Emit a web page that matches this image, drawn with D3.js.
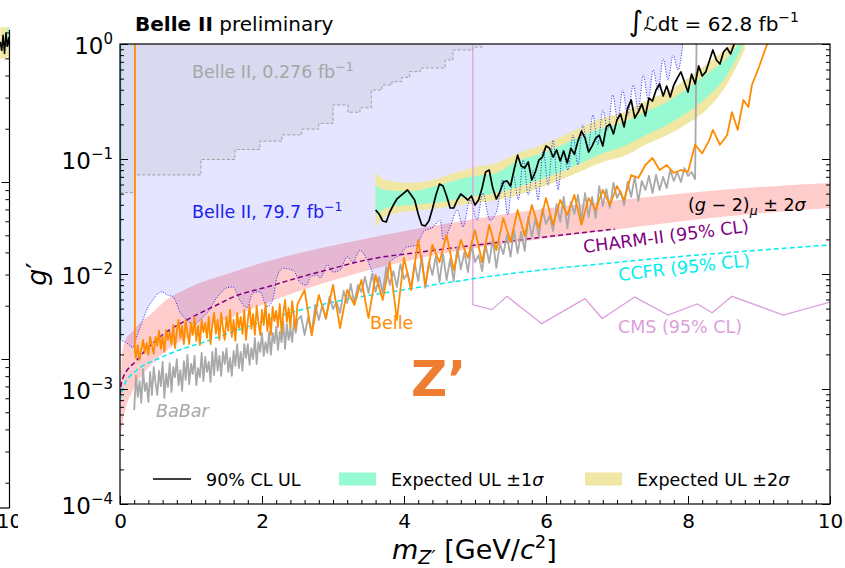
<!DOCTYPE html>
<html><head><meta charset="utf-8">
<script src="https://cdn.jsdelivr.net/npm/d3@7"></script>
<style>
body{margin:0;background:#fff}
svg{display:block}
text{font-family:"DejaVu Sans",sans-serif}
</style>
</head><body>
<svg id="c" width="845" height="568"></svg>
<script>
// ---------------- DATA ----------------
const xTicks = [0, 2, 4, 6, 8, 10];
const yTicks = [1e-4, 1e-3, 1e-2, 1e-1, 1];
const yTickExps = ["\u22124", "\u22123", "\u22122", "\u22121", "0"];

// (g-2)_mu +- 2 sigma band
const g2Mass = [0, 0.03, 0.08, 0.17, 0.28, 0.42, 0.63, 0.99, 1.55, 2.25, 3.10, 4.23, 5.63, 7.04, 8.45, 10];
const g2Low  = [3.6e-4, 4.9e-4, 6.8e-4, 9.4e-4, 1.24e-3, 1.58e-3, 2.1e-3, 2.89e-3, 4.14e-3, 6.2e-3, 9.2e-3, 0.0138, 0.019, 0.0246, 0.0313, 0.0375];
const g2High = [8.0e-4, 1.98e-3, 2.67e-3, 3.13e-3, 3.75e-3, 4.4e-3, 5.8e-3, 7.7e-3, 0.0102, 0.0138, 0.0182, 0.0251, 0.0346, 0.044, 0.0538, 0.0618];

// Belle II 0.276 fb-1 (step)
const b2oldMass  = [0, 0.21, 1.14, 1.62, 1.97, 2.28, 2.56, 2.80, 3.00, 3.21, 3.38, 3.54, 3.69, 3.83, 3.97, 4.08, 4.23, 4.58, 4.69, 4.97, 5.10];
const b2oldLimit = [0.051, 0.0726, 0.099, 0.121, 0.143, 0.162, 0.182, 0.204, 0.295, 0.255, 0.279, 0.398, 0.440, 0.470, 0.513, 0.575, 0.618, 0.726, 0.887, 0.94, 1.0];

// Belle II 79.7 fb-1 (blue dotted)
const b2fullMass = [0, 0.10, 0.18, 0.24, 0.31, 0.39, 0.46, 0.54, 0.59, 0.66, 0.75, 0.85, 0.94, 1.03, 1.13, 1.23, 1.37, 1.51, 1.59, 1.69,
  1.79, 1.87, 1.97, 2.07, 2.15, 2.21, 2.30, 2.44, 2.54, 2.63, 2.68, 2.77, 2.82, 2.92, 3.00, 3.10, 3.20, 3.28, 3.38, 3.48,
  3.62, 3.70, 3.80, 3.94, 4.04, 4.18, 4.27, 4.41, 4.51, 4.55, 4.65, 4.75, 4.83, 4.93, 5.03, 5.11, 5.21, 5.31, 5.39, 5.46,
  5.54, 5.61, 5.68, 5.75, 5.82, 5.89, 5.96, 6.03, 6.10, 6.17, 6.24, 6.31, 6.38, 6.45, 6.52, 6.59, 6.66, 6.73, 6.80, 6.87,
  6.94, 7.01, 7.08, 7.15, 7.23, 7.30, 7.37, 7.44, 7.51, 7.58, 7.65, 7.72, 7.79, 7.86, 7.93];
const b2fullLimit = [2.67e-3, 2.5e-3, 2.3e-3, 2.9e-3, 3.8e-3, 5.1e-3, 5.9e-3, 6.8e-3, 7.0e-3, 6.6e-3, 6.3e-3, 4.6e-3, 4.0e-3, 3.6e-3, 4.0e-3, 4.6e-3, 6.3e-3, 7.6e-3, 7.7e-3, 5.9e-3,
  5.1e-3, 6.8e-3, 7.0e-3, 5.2e-3, 5.9e-3, 9.4e-3, 0.0112, 0.0107, 8.4e-3, 8.0e-3, 9.4e-3, 9.8e-3, 9.2e-3, 0.012, 0.0104, 0.0108, 0.0141, 0.0127, 0.0161, 0.0133,
  8.4e-3, 7.7e-3, 0.0127, 0.0146, 0.0171, 0.0178, 0.0231, 0.0256, 0.0293, 0.0198, 0.0256, 0.036, 0.0256, 0.044, 0.0293, 0.0506, 0.0293, 0.036, 0.066, 0.0326,
  0.073, 0.044, 0.098, 0.0487, 0.080, 0.044, 0.12, 0.059, 0.146, 0.0538, 0.12, 0.080, 0.161, 0.089, 0.198, 0.12, 0.241, 0.133, 0.267, 0.179,
  0.36, 0.219, 0.398, 0.241, 0.44, 0.267, 0.538, 0.326, 0.594, 0.398, 0.741, 0.487, 0.802, 0.594, 1.05];

// Expected UL bands
const expMass = [3.60, 3.65, 3.75, 3.90, 4.10, 4.40, 4.70, 4.80, 5.00, 5.30, 5.60, 5.90, 6.20, 6.50, 6.80, 7.10, 7.40, 7.70, 8.00, 8.30, 8.55, 8.80];
const exp2Up = [0.0771, 0.0711, 0.0657, 0.0631, 0.0618, 0.0657, 0.0756, 0.0787, 0.0852, 0.0923, 0.112, 0.130, 0.155, 0.190, 0.227, 0.256, 0.319, 0.382, 0.506, 0.697, 0.923, 1.3];
const exp1Up = [0.0594, 0.0559, 0.0538, 0.0527, 0.0527, 0.0572, 0.0645, 0.0670, 0.0711, 0.0756, 0.0961, 0.110, 0.130, 0.158, 0.186, 0.210, 0.256, 0.313, 0.414, 0.572, 0.756, 1.2];
const exp1Dn = [0.0326, 0.0346, 0.0375, 0.0390, 0.0398, 0.0414, 0.044, 0.0458, 0.0477, 0.0506, 0.0572, 0.0657, 0.0771, 0.0923, 0.112, 0.130, 0.161, 0.198, 0.256, 0.360, 0.538, 1.05];
const exp2Dn = [0.0256, 0.0283, 0.0319, 0.0339, 0.0353, 0.0367, 0.0390, 0.0398, 0.0414, 0.044, 0.0487, 0.0559, 0.0657, 0.0787, 0.0942, 0.106, 0.133, 0.161, 0.205, 0.283, 0.45, 0.9];

// Observed 90% CL UL
const obsMass = [3.60,3.65,3.70,3.75,3.80,3.85,3.90,3.95,4.00,4.05,4.10,4.15,4.20,4.25,4.30,4.35,4.40,4.45,4.50,4.55,
  4.60,4.65,4.70,4.75,4.80,4.85,4.90,4.95,5.00,5.05,5.10,5.15,5.20,5.25,5.30,5.35,5.40,5.45,5.50,5.55,
  5.60,5.65,5.70,5.75,5.80,5.85,5.90,5.95,6.00,6.05,6.10,6.15,6.20,6.25,6.30,6.35,6.40,6.45,6.50,6.55,
  6.60,6.65,6.70,6.75,6.80,6.85,6.90,6.95,7.00,7.05,7.10,7.15,7.20,7.25,7.30,7.35,7.40,7.45,7.50,7.55,
  7.60,7.65,7.70,7.75,7.80,7.85,7.90,7.95,8.00,8.05,8.10,8.15,8.20,8.25,8.30,8.35,8.40,8.45,8.50,8.55,
  8.60,8.65,8.70];
const obsLimit = [0.036,0.0332,0.0289,0.0283,0.0346,0.0398,0.0449,0.0477,0.0506,0.0538,0.0487,0.044,0.0332,0.0267,0.0262,0.0289,0.0367,0.0487,0.0606,0.0582,
  0.0477,0.0375,0.0375,0.044,0.0496,0.0468,0.044,0.0477,0.0398,0.044,0.0559,0.0771,0.0802,0.0559,0.0449,0.0516,0.0631,0.0645,0.0582,0.0802,
  0.108,0.0869,0.0835,0.0942,0.0657,0.0771,0.098,0.104,0.130,0.124,0.104,0.120,0.0961,0.117,0.0923,0.124,0.110,0.143,0.175,0.152,
  0.115,0.130,0.152,0.161,0.130,0.190,0.201,0.165,0.219,0.246,0.190,0.277,0.326,0.227,0.256,0.301,0.237,0.339,0.319,0.398,
  0.449,0.353,0.431,0.346,0.440,0.506,0.572,0.468,0.382,0.548,0.449,0.645,0.527,0.572,0.711,0.887,0.726,0.670,0.852,0.923,
  0.819,1.0,1.13];

// BaBar
const babarMass = [0.200,0.225,0.250,0.275,0.300,0.325,0.350,0.375,0.400,0.425,0.450,0.475,0.500,0.525,0.550,0.575,0.600,0.625,0.650,0.675,
  0.700,0.725,0.750,0.775,0.800,0.825,0.850,0.875,0.900,0.925,0.950,0.975,1.000,1.025,1.050,1.075,1.100,1.125,1.150,1.175,
  1.200,1.225,1.250,1.275,1.300,1.325,1.350,1.375,1.400,1.425,1.450,1.475,1.500,1.525,1.550,1.575,1.600,1.625,1.650,1.675,
  1.700,1.725,1.750,1.775,1.800,1.825,1.850,1.875,1.900,1.925,1.950,1.975,2.000,2.025,2.050,2.075,2.100,2.125,2.150,2.175,
  2.200,2.225,2.250,2.275,2.300,2.325,2.350,2.375,2.400,2.425,2.450,2.475,2.500,
  2.55,2.60,2.65,2.70,2.75,2.80,2.85,2.90,2.95,3.00,3.05,3.10,3.15,3.20,3.25,3.30,3.35,3.40,3.45,3.50,
  3.55,3.60,3.65,3.70,3.75,3.80,3.85,3.90,3.95,4.00,4.05,4.10,4.15,4.20,4.25,4.30,4.35,4.40,
  4.45,4.50,4.55,4.60,4.65,4.70,4.75,4.80,4.85,4.90,4.95,5.00,5.05,5.10,5.15,5.20,5.25,5.30,5.35,
  5.40,5.45,5.50,5.55,5.60,5.65,5.70,5.75,5.80,5.85,5.90,5.95,6.00,6.05,6.10,
  6.15,6.20,6.25,6.30,6.35,6.40,6.45,6.50,6.55,6.60,6.65,6.70,6.75,6.80,6.85,6.90,6.95,7.00,
  7.05,7.10,7.15,7.20,7.25,7.30,7.35,7.40,7.45,7.50,7.55,7.60,7.65,7.70,7.75,
  7.80,7.85,7.90,7.95,8.00,8.05,8.10,8.12];
const babarLimit = [6.57e-4,1.32e-3,8.52e-4,1.17e-3,7.56e-4,1.49e-3,9.61e-4,1.13e-3,7.71e-4,1.41e-3,
  8.87e-4,1.55e-3,1.13e-3,8.87e-4,1.44e-3,1.06e-3,1.72e-3,8.35e-4,1.35e-3,1.04e-3,
  1.68e-3,9.42e-4,1.55e-3,1.27e-3,1.82e-3,1.08e-3,1.46e-3,9.61e-4,1.75e-3,1.20e-3,
  1.98e-3,1.10e-3,1.65e-3,1.35e-3,1.94e-3,1.08e-3,1.52e-3,1.27e-3,2.06e-3,1.17e-3,
  1.90e-3,1.41e-3,1.72e-3,1.15e-3,2.10e-3,1.32e-3,2.27e-3,1.44e-3,1.94e-3,1.30e-3,
  2.10e-3,1.65e-3,2.27e-3,1.41e-3,1.86e-3,1.30e-3,2.14e-3,1.59e-3,2.46e-3,1.52e-3,
  2.10e-3,1.44e-3,2.46e-3,1.86e-3,2.46e-3,1.62e-3,2.27e-3,1.82e-3,2.78e-3,1.65e-3,
  2.56e-3,2.10e-3,3.07e-3,1.94e-3,2.56e-3,2.06e-3,3.13e-3,1.98e-3,3.07e-3,2.51e-3,
  3.46e-3,2.19e-3,3.13e-3,2.56e-3,3.83e-3,2.23e-3,3.68e-3,2.67e-3,3.39e-3,2.56e-3,
  3.98e-3,3.07e-3,3.98e-3,
  4.31e-3,2.95e-3,4.23e-3,3.07e-3,5.38e-3,3.98e-3,5.38e-3,4.06e-3,6.31e-3,4.96e-3,5.71e-3,4.58e-3,7.12e-3,5.60e-3,8.19e-3,5.48e-3,8.02e-3,6.98e-3,9.42e-3,6.84e-3,
  0.0100,6.98e-3,9.42e-3,6.84e-3,0.0115,8.02e-3,0.0106,7.71e-3,0.0122,9.05e-3,0.0102,7.56e-3,0.0125,8.69e-3,0.0144,7.56e-3,0.0127,9.80e-3,
  0.0144,8.52e-3,0.0149,8.87e-3,0.0135,8.69e-3,0.0172,0.0110,0.0155,0.0104,0.0179,0.0127,0.0146,0.0106,0.0179,0.0125,0.0202,0.0113,0.0182,
  0.0149,0.0219,0.0141,0.0241,0.0152,0.0232,0.0159,0.0313,0.0210,0.0301,0.0210,0.0368,0.0272,0.0320,0.0237,
  0.0406,0.0284,0.0468,0.0251,0.0423,0.0333,0.0487,0.0295,0.0506,0.0313,0.0468,0.0307,0.0582,0.0390,0.0548,0.0375,0.0619,0.0458,
  0.0527,0.0398,0.0631,0.0468,0.0698,0.0431,0.0644,0.0538,0.0712,0.0506,0.0726,0.0538,0.0698,0.0560,0.0802,
  0.0644,0.0771,0.0631,0.0835,0.0712,0.0771,0.0670,1.0];

// Belle
const belleMass = [0.21,0.21,0.225,0.250,0.275,0.300,0.325,0.350,0.375,0.400,0.425,0.450,
  0.475,0.500,0.525,0.550,0.575,0.600,0.625,0.650,0.675,0.700,
  0.725,0.750,0.775,0.800,0.825,0.850,0.875,0.900,0.925,0.950,
  0.975,1.000,1.025,1.050,1.075,1.100,1.125,1.150,1.175,1.200,
  1.225,1.250,1.275,1.300,1.325,1.350,1.375,1.400,1.425,1.450,
  1.475,1.500,1.525,1.550,1.575,1.600,1.625,1.650,1.675,1.700,
  1.725,1.750,1.775,1.800,1.825,1.850,1.875,1.900,1.925,1.950,
  1.975,2.000,2.025,2.050,2.075,2.100,2.125,2.150,2.175,2.200,
  2.225,2.250,2.275,2.300,2.325,2.350,2.375,2.400,2.425,2.450,2.475,2.500,
  2.60,2.70,2.80,2.90,3.00,3.10,3.20,3.30,3.40,3.50,3.60,3.70,3.80,3.90,4.00,4.10,4.20,4.30,4.40,4.50,
  4.60,4.70,4.80,4.90,5.00,5.10,5.20,5.30,5.40,5.50,5.60,5.70,5.80,5.90,6.00,6.10,6.20,6.30,6.40,
  6.50,6.60,6.70,6.80,6.90,7.00,7.10,7.20,7.30,7.40,7.50,7.60,7.70,7.80,7.90,8.00,8.10,8.20,8.30,
  8.35,8.45,8.55,8.62,8.70,8.78,8.85,8.90,9.00,9.10,9.15];
const belleLimit = [1.0,2.10e-3,1.86e-3,2.41e-3,1.79e-3,2.23e-3,2.67e-3,2.06e-3,2.51e-3,1.98e-3,2.84e-3,2.37e-3,
  2.02e-3,2.84e-3,2.37e-3,3.20e-3,2.23e-3,2.84e-3,2.10e-3,3.26e-3,2.67e-3,3.13e-3,
  2.46e-3,3.60e-3,2.27e-3,3.20e-3,3.98e-3,2.78e-3,3.53e-3,2.46e-3,3.98e-3,3.07e-3,
  2.46e-3,3.75e-3,2.95e-3,4.23e-3,2.62e-3,3.53e-3,2.41e-3,3.98e-3,3.13e-3,3.75e-3,
  2.78e-3,4.23e-3,2.46e-3,3.60e-3,4.58e-3,3.01e-3,3.98e-3,2.67e-3,4.58e-3,3.39e-3,
  2.67e-3,4.23e-3,3.20e-3,4.87e-3,2.84e-3,3.98e-3,2.62e-3,4.58e-3,3.39e-3,4.23e-3,
  3.01e-3,4.87e-3,2.67e-3,3.98e-3,5.27e-3,3.33e-3,4.49e-3,2.95e-3,5.27e-3,3.75e-3,
  2.95e-3,4.87e-3,3.60e-3,5.60e-3,3.20e-3,4.49e-3,2.95e-3,5.17e-3,3.90e-3,4.77e-3,
  3.46e-3,5.48e-3,3.07e-3,4.58e-3,5.94e-3,3.83e-3,5.06e-3,3.39e-3,5.82e-3,4.31e-3,3.33e-3,5.48e-3,
  7.26e-3,2.93e-3,6.57e-3,4.14e-3,8.02e-3,3.39e-3,7.26e-3,5.38e-3,8.87e-3,4.14e-3,9.8e-3,5.94e-3,0.0127,3.98e-3,0.0138,7.26e-3,0.0198,8.02e-3,0.0179,0.0127,
  0.0219,0.0108,0.0198,0.0138,0.0241,0.0127,0.0267,0.0161,0.0306,0.0190,0.0360,0.0214,0.0398,0.0251,0.0458,0.0267,0.0440,0.0326,0.0487,
  0.0267,0.0458,0.0360,0.0538,0.0398,0.0582,0.0440,0.0726,0.0684,0.0887,0.102,0.0802,0.0887,0.0756,0.0802,0.0771,0.133,0.112,0.146,
  0.179,0.133,0.161,0.256,0.179,0.326,0.283,0.440,0.631,0.942,1.13];

// CHARM-II, CCFR, CMS
const charmMass  = [0, 0.03, 0.24, 0.56, 0.94, 1.37, 1.59, 2.07, 2.54, 3.0, 3.48, 4.23, 5.63, 6.97];
const charmLimit = [8.9e-4, 1.2e-3, 1.79e-3, 2.83e-3, 3.98e-3, 5.4e-3, 6.3e-3, 7.7e-3, 9.4e-3, 0.0112, 0.0133, 0.0155, 0.0198, 0.0246];
const ccfrMass  = [0, 0.07, 0.21, 0.56, 1.27, 2.54, 4.23, 5.35, 7.04, 10];
const ccfrLimit = [8.0e-4, 1.12e-3, 1.41e-3, 1.86e-3, 2.67e-3, 4.87e-3, 7.7e-3, 9.8e-3, 0.0127, 0.0179];
const cmsMass  = [4.97, 4.97, 5.24, 5.45, 5.94, 6.55, 6.79, 7.25, 7.72, 8.13, 8.34, 8.62, 9.34, 10];
const cmsLimit = [1.0, 5.4e-3, 4.9e-3, 6.4e-3, 3.7e-3, 6.1e-3, 4.1e-3, 6.3e-3, 4.4e-3, 5.5e-3, 4.6e-3, 6.4e-3, 4.4e-3, 5.7e-3];

// fragment of the neighbouring panel at the left edge
const fragMass = [9.87, 9.89, 9.91, 9.93, 9.95, 9.97, 9.99, 10.0];
const fragObs  = [0.62, 0.55, 0.68, 0.53, 0.70, 0.58, 0.66, 0.60];
const fragBandLo = [0.50, 0.49, 0.51, 0.48, 0.50, 0.52, 0.49, 0.50];
const fragBandHi = [0.75, 0.75, 0.75, 0.75, 0.75, 0.75, 0.75, 0.75];

// ---------------- CHART ----------------
const svg = d3.select("#c");
const L = 120, R = 830, T = 44, B = 504;
const x = d3.scaleLinear().domain([0, 10]).range([L, R]);
const y = d3.scaleLog().domain([1e-4, 1]).range([B, T]);
const zip = (a, b) => a.map((v, i) => [v, b[i]]).filter(d => d[1] !== undefined);

const defs = svg.append("defs");
defs.append("clipPath").attr("id", "plot").append("rect").attr("x", L).attr("y", T).attr("width", R - L).attr("height", B - T);
defs.append("clipPath").attr("id", "frag").append("rect").attr("x", 0).attr("y", 0).attr("width", 18).attr("height", 568);

const COL = {
  pink: "rgba(255,0,0,0.2)", lav: "rgba(0,0,255,0.1)", old: "rgba(128,128,128,0.12)",
  green: "#97fad3", yellow: "#efe7a3", orange: "#ff8c00", grey: "#a9a9a9",
  blue: "#2a2af5", purple: "#800080", cyan: "#00eeee", plum: "#dda0dd"
};

const p = svg.append("g").attr("clip-path", "url(#plot)");
const line = d3.line().x(d => x(d[0])).y(d => y(d[1]));
const smooth = d3.line().x(d => x(d[0])).y(d => y(d[1])).curve(d3.curveMonotoneX);

// g-2 band
p.append("path").datum(g2Mass.map((m, i) => [m, g2Low[i], g2High[i]]))
  .attr("d", d3.area().x(d => x(d[0])).y0(d => y(d[1])).y1(d => y(d[2])).curve(d3.curveMonotoneX))
  .attr("fill", COL.pink);

// Belle II 79.7 fb-1 excluded region
p.append("path").datum(zip(b2fullMass, b2fullLimit))
  .attr("d", d3.area().x(d => x(d[0])).y0(y(1)).y1(d => y(d[1])).curve(d3.curveMonotoneX))
  .attr("fill", COL.lav);
// Belle II 0.276 fb-1 region
p.append("path").datum(zip(b2oldMass, b2oldLimit))
  .attr("d", d3.area().x(d => x(d[0])).y0(y(1)).y1(d => y(d[1])).curve(d3.curveStepAfter))
  .attr("fill", COL.old);

// expected bands
const band = (lo, hi) => d3.area().x(d => x(d[0])).y0(d => y(d[lo])).y1(d => y(d[hi])).curve(d3.curveMonotoneX);
const expData = expMass.map((m, i) => [m, exp2Dn[i], exp1Dn[i], exp1Up[i], exp2Up[i]]);
p.append("path").datum(expData).attr("d", band(1, 4)).attr("fill", COL.yellow);
p.append("path").datum(expData).attr("d", band(2, 3)).attr("fill", COL.green);

// teal edge on the left
p.append("path").datum([[0.008, 1], [0.008, 2.7e-3]]).attr("d", line).attr("stroke", "#1aa6a6").attr("stroke-width", 1.2).attr("fill", "none");

// Belle II 79.7 dotted limit
p.append("path").datum(zip(b2fullMass, b2fullLimit)).attr("d", smooth)
  .attr("fill", "none").attr("stroke", COL.blue).attr("stroke-width", 1).attr("stroke-dasharray", "1,1.6");
// Belle II 0.276 step line
p.append("path").datum(zip(b2oldMass, b2oldLimit)).attr("d", d3.line().x(d => x(d[0])).y(d => y(d[1])).curve(d3.curveStepAfter))
  .attr("fill", "none").attr("stroke", "#a0a0a0").attr("stroke-width", 1).attr("stroke-dasharray", "3,2");

// CMS
p.append("path").datum(zip(cmsMass, cmsLimit)).attr("d", line).attr("fill", "none").attr("stroke", COL.plum).attr("stroke-width", 1.3);
// CCFR / CHARM-II
p.append("path").datum(zip(ccfrMass, ccfrLimit)).attr("d", smooth).attr("fill", "none").attr("stroke", COL.cyan).attr("stroke-width", 1.5).attr("stroke-dasharray", "5,3");
p.append("path").datum(zip(charmMass, charmLimit)).attr("d", smooth).attr("fill", "none").attr("stroke", COL.purple).attr("stroke-width", 1.5).attr("stroke-dasharray", "5,3");

// BaBar, Belle
p.append("path").datum(zip(babarMass, babarLimit)).attr("d", line).attr("fill", "none").attr("stroke", COL.grey).attr("stroke-width", 1.8).attr("stroke-linejoin", "round");
p.append("path").datum(zip(belleMass, belleLimit)).attr("d", line).attr("fill", "none").attr("stroke", COL.orange).attr("stroke-width", 1.8).attr("stroke-linejoin", "round");
// observed
p.append("path").datum(zip(obsMass, obsLimit)).attr("d", line).attr("fill", "none").attr("stroke", "#000").attr("stroke-width", 1.7).attr("stroke-linejoin", "round");

// ---------------- AXES ----------------
const ax = svg.append("g").attr("transform", `translate(0,${B})`)
  .call(d3.axisBottom(x).tickValues(xTicks).tickSize(-8).tickSizeOuter(0).tickPadding(10).tickFormat(d3.format("d")));
ax.select(".domain").remove();
ax.selectAll("text").attr("font-size", 20).attr("font-family", "DejaVu Sans").attr("fill", "#000");
const xMinor = d3.range(1, 50).map(i => i * 0.2).filter(v => Math.abs(v / 2 - Math.round(v / 2)) > 1e-6);
svg.append("g").attr("transform", `translate(0,${B})`)
  .call(d3.axisBottom(x).tickValues(xMinor).tickSize(-4).tickSizeOuter(0).tickFormat(""))
  .select(".domain").remove();

const yMinor = y.ticks().filter(v => Math.abs(Math.log10(v) - Math.round(Math.log10(v))) > 1e-6);
const ay = svg.append("g").attr("transform", `translate(${L},0)`)
  .call(d3.axisLeft(y).tickValues(yTicks).tickSize(-8).tickSizeOuter(0).tickPadding(7));
ay.select(".domain").remove();
ay.selectAll(".tick text").each(function (d, i) {
  const t = d3.select(this);
  t.text(null).attr("dy", null).attr("y", 9.3).attr("font-size", 23).attr("font-family", "DejaVu Sans").attr("fill", "#000");
  t.append("tspan").text("10");
  t.append("tspan").attr("dy", -9.5).attr("font-size", 15).text(yTickExps[i]);
});
svg.append("g").attr("transform", `translate(${L},0)`)
  .call(d3.axisLeft(y).tickValues(yMinor).tickSize(-4).tickSizeOuter(0).tickFormat("")).select(".domain").remove();
svg.append("g").attr("transform", `translate(${R},0)`)
  .call(d3.axisRight(y).tickValues(yTicks).tickSize(-8).tickSizeOuter(0).tickFormat("")).select(".domain").remove();
svg.append("g").attr("transform", `translate(${R},0)`)
  .call(d3.axisRight(y).tickValues(yMinor).tickSize(-4).tickSizeOuter(0).tickFormat("")).select(".domain").remove();

svg.append("rect").attr("x", L).attr("y", T).attr("width", R - L).attr("height", B - T)
  .attr("fill", "none").attr("stroke", "#000").attr("stroke-width", 1.2);

// ---------------- TEXT ----------------
function rich(xp, yp, parts, attrs) {
  const t = svg.append("text").attr("x", xp).attr("y", yp);
  Object.entries(attrs || {}).forEach(([k, v]) => t.attr(k, v));
  let shift = 0;
  parts.forEach(q => {
    const s = t.append("tspan").text(q.t);
    const target = q.dy || 0;
    if (target !== shift) { s.attr("dy", target - shift); shift = target; }
    if (q.it) s.attr("font-style", "italic");
    if (q.b) s.attr("font-weight", "bold");
    if (q.fs) s.attr("font-size", q.fs);
  });
  return t;
}

rich(135, 31, [{ t: "Belle II", b: true }, { t: " preliminary" }], { "font-size": 20 });
rich(799, 31, [{ t: "\u222B", fs: 28 }, { t: "\u2112", it: true }, { t: "dt = 62.8 fb" }, { t: "\u22121", fs: 14, dy: -9 }],
  { "font-size": 20, "text-anchor": "end" });

rich(192, 78, [{ t: "Belle II, 0.276 fb" }, { t: "\u22121", fs: 12.5, dy: -7 }], { "font-size": 17.5, fill: "#a6a6a6" });
rich(192, 218, [{ t: "Belle II, 79.7 fb" }, { t: "\u22121", fs: 12.5, dy: -7 }], { "font-size": 17.5, fill: "#2020f0" });
rich(688, 211, [{ t: "(" }, { t: "g", it: true }, { t: " \u2212 2)" }, { t: "\u03BC", it: true, fs: 12.5, dy: 4 }, { t: " \u00B1 2" }, { t: "\u03C3", it: true }],
  { "font-size": 17.5, fill: "#000" });
rich(0, 0, [{ t: "CHARM-II (95% CL)" }], { "font-size": 17.5, fill: COL.purple, transform: "translate(584,253) rotate(-7.3)" });
rich(0, 0, [{ t: "CCFR (95% CL)" }], { "font-size": 17.5, fill: COL.cyan, transform: "translate(619,281) rotate(-6.5)" });
rich(618, 333, [{ t: "CMS (95% CL)" }], { "font-size": 17.5, fill: COL.plum });
rich(370, 329, [{ t: "Belle" }], { "font-size": 17.5, fill: COL.orange });
rich(156, 417, [{ t: "BaBar", it: true }], { "font-size": 17.5, fill: "#a9a9a9" });
rich(411, 396, [{ t: "Z\u2019" }], { "font-size": 50, "font-weight": "bold", "font-family": "Liberation Sans", fill: "#ed7d31" });

// axis labels
rich(392, 559, [{ t: "m", it: true }, { t: "Z\u2032", it: true, fs: 19, dy: 5 }, { t: " [GeV/" }, { t: "c", it: true }, { t: "2", fs: 18, dy: -11 }, { t: "]" }],
  { "font-size": 27 });
rich(0, 0, [{ t: "g", it: true }, { t: "\u2032" }], { "font-size": 27, transform: "translate(46,274) rotate(-90)", "text-anchor": "middle" });

// legend
svg.append("line").attr("x1", 153).attr("x2", 191).attr("y1", 479).attr("y2", 479).attr("stroke", "#000").attr("stroke-width", 1.5);
rich(206, 486, [{ t: "90% CL UL" }], { "font-size": 17.5 });
svg.append("rect").attr("x", 339).attr("y", 472.5).attr("width", 37).attr("height", 13).attr("fill", COL.green);
rich(391, 486, [{ t: "Expected UL \u00B11" }, { t: "\u03C3", it: true }], { "font-size": 17.5 });
svg.append("rect").attr("x", 585).attr("y", 472.5).attr("width", 37).attr("height", 13).attr("fill", COL.yellow);
rich(637, 486, [{ t: "Expected UL \u00B12" }, { t: "\u03C3", it: true }], { "font-size": 17.5 });

// ---------------- LEFT FRAGMENT ----------------
const fg = svg.append("g").attr("clip-path", "url(#frag)");
const xf = d3.scaleLinear().domain([0, 10]).range([-700.5, 9.5]);
const yf = d3.scaleLog().domain([Math.pow(10, -2.842), Math.pow(10, -0.141)]).range([508, 30]);
fg.append("path").datum(fragMass.map((m, i) => [m, fragBandLo[i], fragBandHi[i]]))
  .attr("d", d3.area().x(d => xf(d[0])).y0(d => yf(d[1])).y1(d => yf(d[2]))).attr("fill", COL.yellow);
fg.append("path").datum(fragMass.map((m, i) => [m, fragBandLo[i] * 1.12, fragBandHi[i]]).slice(5))
  .attr("d", d3.area().x(d => xf(d[0])).y0(d => yf(d[1])).y1(d => yf(d[2]))).attr("fill", COL.green);
fg.append("path").datum(zip(fragMass, fragObs)).attr("d", d3.line().x(d => xf(d[0])).y(d => yf(d[1])))
  .attr("fill", "none").attr("stroke", "#000").attr("stroke-width", 1.5);
const fMinor = yf.ticks().filter(v => Math.abs(Math.log10(v) - Math.round(Math.log10(v))) > 1e-6);
const fMajor = yf.ticks().filter(v => Math.abs(Math.log10(v) - Math.round(Math.log10(v))) <= 1e-6);
fg.append("g").attr("transform", "translate(9.5,0)").call(d3.axisRight(yf).tickValues(fMajor).tickSize(-8).tickSizeOuter(0).tickFormat("")).select(".domain").remove();
fg.append("g").attr("transform", "translate(9.5,0)").call(d3.axisRight(yf).tickValues(fMinor).tickSize(-4).tickSizeOuter(0).tickFormat("")).select(".domain").remove();
fg.append("line").attr("x1", 9.5).attr("x2", 9.5).attr("y1", 30).attr("y2", 508).attr("stroke", "#000").attr("stroke-width", 1.2);
fg.append("line").attr("x1", 0).attr("x2", 9.5).attr("y1", 508).attr("y2", 508).attr("stroke", "#000").attr("stroke-width", 1.2);
fg.append("text").attr("x", xf(10)).attr("y", 528).attr("text-anchor", "middle").attr("font-size", 20).text("10");
</script>
</body></html>
